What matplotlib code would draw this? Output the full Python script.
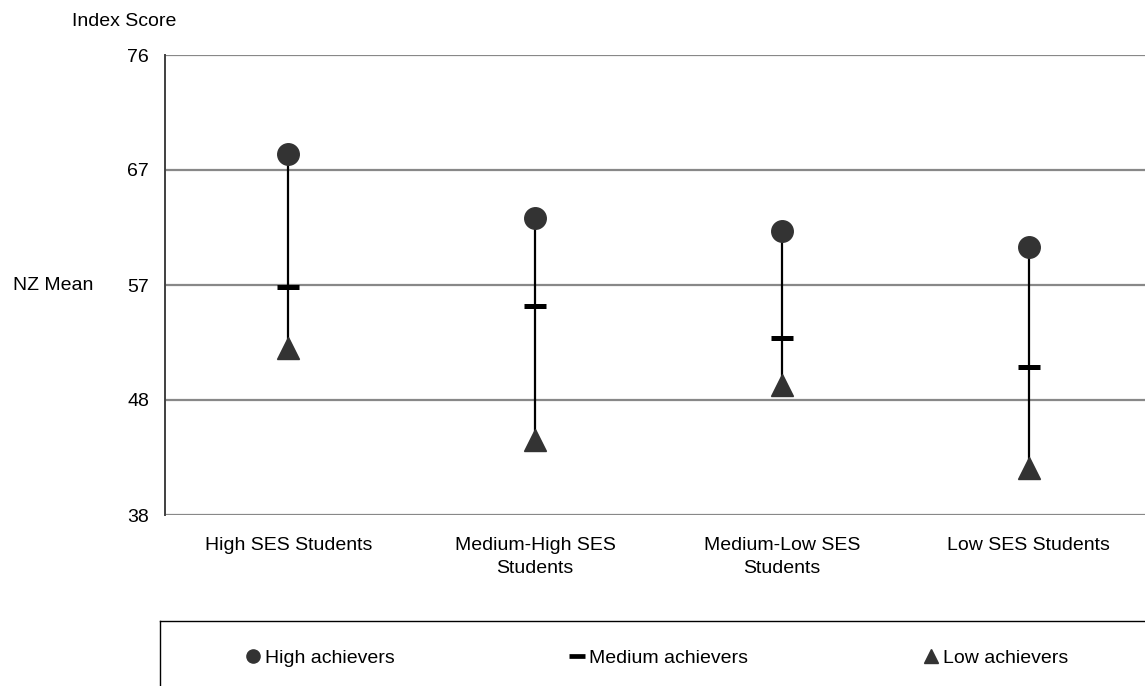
import matplotlib.pyplot as plt
from matplotlib.lines import Line2D

plt.rcParams['font.family'] = ['Liberation Sans', 'DejaVu Sans']

# data
groups = ['High SES Students', 'Medium-High SES\nStudents',
          'Medium-Low SES\nStudents', 'Low SES Students']
high = [67.8, 62.5, 61.5, 60.1]
medium = [56.8, 55.3, 52.6, 50.2]
low = [51.8, 44.2, 48.7, 41.9]
y_ticks = [38, 47.5, 57, 66.5, 76]
y_labels = ['38', '48', '57', '67', '76']
series_names = ['High achievers', 'Medium achievers', 'Low achievers']

W, H = 1145, 686
FS = 14
fig = plt.figure(figsize=(W / 100, H / 100), dpi=100)
ax = fig.add_axes([165 / W, 1 - 515 / H, 987 / W, 460 / H])

x = list(range(len(groups)))
mark = '#333333'

# range lines from high to low
ax.vlines(x, low, high, color='black', linewidth=1.6, zorder=3)
ax.plot(x, high, 'o', color=mark, markersize=15.5, linestyle='none', zorder=4)
ax.plot(x, medium, '_', color='black', markersize=16, markeredgewidth=3.6,
        linestyle='none', zorder=4)
ax.plot(x, low, '^', color=mark, markersize=16, linestyle='none', zorder=4)

ax.set_xlim(-0.5, len(groups) - 0.5)
ax.set_ylim(38, 76)
ax.set_yticks(y_ticks)
ax.set_yticklabels(y_labels, fontsize=FS)
ax.set_xticks(x)
ax.set_xticklabels(groups, fontsize=FS, linespacing=1.5)
ax.tick_params(axis='both', length=0)
ax.tick_params(axis='y', pad=11.5)
ax.tick_params(axis='x', pad=15.5)
ax.yaxis.grid(True, color='#888888', linewidth=1.6)
ax.set_axisbelow(True)
for s in ['top', 'right', 'bottom']:
    ax.spines[s].set_visible(False)
ax.spines['left'].set_linewidth(1.4)
ax.spines['left'].set_color('#404040')

fig.text(72 / W, 1 - 22 / H, 'Index Score', fontsize=FS, va='center')
fig.text(13 / W, 1 - 285 / H, 'NZ Mean', fontsize=FS, va='center')

# legend box
lax = fig.add_axes([160 / W, -0.1, 1.0, 0.1 + (H - 621) / H])
lax.set_xticks([])
lax.set_yticks([])
for s in ['right', 'bottom']:
    lax.spines[s].set_visible(False)
lax.spines['top'].set_linewidth(1.0)
lax.spines['left'].set_linewidth(1.0)

handles = [
    Line2D([], [], marker='o', color=mark, markersize=9.5, linestyle='none'),
    Line2D([], [], marker='_', color='black', markersize=11.5,
           markeredgewidth=3.4, linestyle='none'),
    Line2D([], [], marker='^', color=mark, markersize=9.5, linestyle='none'),
]
fig.legend(handles, series_names, loc='center left',
           bbox_to_anchor=(246 / W, 1 - 658 / H), ncol=3, frameon=False,
           fontsize=FS, handlelength=0.7, handletextpad=0.27,
           columnspacing=9.05, borderpad=0, borderaxespad=0)

fig.savefig('out.png', dpi=100)
